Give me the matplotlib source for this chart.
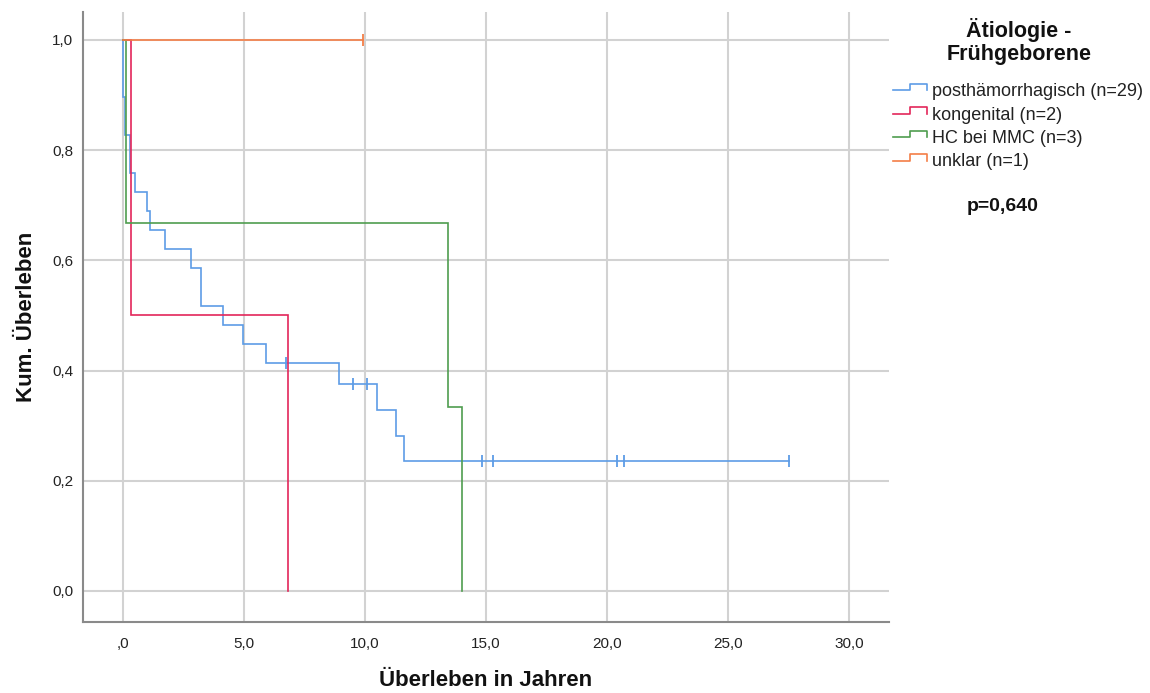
"""Kaplan-Meier survival by etiology (preterm infants), SPSS-style."""
import matplotlib
matplotlib.use("Agg")
import matplotlib.pyplot as plt
from matplotlib.lines import Line2D

W, H = 1150, 693

groups = ["posthämorrhagisch (n=29)", "kongenital (n=2)", "HC bei MMC (n=3)", "unklar (n=1)"]
colors = ["#5d9ce6", "#e3265a", "#4f9d4f", "#f47e47"]

# event times (years) and survival level after each step
post_t = [0.0, 0.09, 0.29, 0.51, 1.0, 1.12, 1.72, 2.82, 3.21, 4.12, 4.95, 5.9, 8.91, 10.5, 11.3, 11.6]
post_s = [0.897, 0.828, 0.759, 0.724, 0.690, 0.655, 0.621, 0.586, 0.517, 0.483,
          0.448, 0.414, 0.376, 0.329, 0.282, 0.235]
post_end = 27.52
post_cens_t = [6.74, 9.52, 10.07, 14.82, 15.3, 20.43, 20.7, 27.52]
post_cens_s = [0.414, 0.376, 0.376, 0.235, 0.235, 0.235, 0.235, 0.235]

kong_t = [0.32, 6.83]
kong_s = [0.5, 0.0]
kong_end = 6.83

hc_t = [0.12, 13.41, 14.01]
hc_s = [0.667, 0.333, 0.0]
hc_end = 14.01

unk_t = []
unk_s = []
unk_end = 9.9
unk_cens_t = [9.9]
unk_cens_s = [1.0]

xticks = [0, 5, 10, 15, 20, 25, 30]
xtick_labels = [",0", "5,0", "10,0", "15,0", "20,0", "25,0", "30,0"]
yticks = [0.0, 0.2, 0.4, 0.6, 0.8, 1.0]
ytick_labels = ["0,0", "0,2", "0,4", "0,6", "0,8", "1,0"]

p_text = "p=0,640"

plt.rcParams["font.family"] = ["Liberation Sans", "DejaVu Sans"]


def fx(px):
    return px / W


def fy(py):
    return 1 - py / H


def km_line(ax, t, s, end, color):
    x = [0.0] + list(t) + [end]
    y = [1.0] + list(s) + [s[-1] if s else 1.0]
    ax.step(x, y, where="post", color=color, lw=1.2, solid_joinstyle="miter", zorder=3)


fig = plt.figure(figsize=(W / 100, H / 100), dpi=100)
ax = fig.add_axes([fx(83), fy(622), (889 - 83) / W, (622 - 12) / H])

km_line(ax, post_t, post_s, post_end, colors[0])
ax.plot(post_cens_t, post_cens_s, ls="none", marker="|", ms=8, mew=1.3,
        color=colors[0], zorder=4)
km_line(ax, kong_t, kong_s, kong_end, colors[1])
km_line(ax, hc_t, hc_s, hc_end, colors[2])
km_line(ax, unk_t, unk_s, unk_end, colors[3])
ax.plot(unk_cens_t, unk_cens_s, ls="none", marker="|", ms=8, mew=1.3,
        color=colors[3], zorder=4)

ax.set_xlim(-1.65, 31.65)
ax.set_ylim(-0.0563, 1.0508)
ax.set_xticks(xticks)
ax.set_xticklabels(xtick_labels)
ax.set_yticks(yticks)
ax.set_yticklabels(ytick_labels)
ax.tick_params(length=0, labelsize=11, labelcolor="#222222")
ax.tick_params(axis="x", pad=11)
ax.tick_params(axis="y", pad=7)

ax.grid(True, color="#d2d2d2", lw=1.5, zorder=1)
ax.set_axisbelow(True)
for side in ("top", "right"):
    ax.spines[side].set_visible(False)
for side in ("left", "bottom"):
    ax.spines[side].set_color("#8a8a8a")
    ax.spines[side].set_linewidth(1.5)

ax.set_xlabel("Überleben in Jahren", fontsize=16, fontweight="bold", color="#111111",
              va="center")
ax.set_ylabel("Kum. Überleben", fontsize=16, fontweight="bold", color="#111111",
              va="center")
ax.xaxis.set_label_coords(0.5, (622 - 680) / 610)
ax.yaxis.set_label_coords((27 - 83) / 806, 0.5)

# legend block on the right, drawn by hand to get the step-shaped keys
fig.text(fx(1019), fy(37), "Ätiologie -", ha="center", va="baseline",
         fontsize=15.5, fontweight="bold", color="#111111")
fig.text(fx(1019), fy(60), "Frühgeborene", ha="center", va="baseline",
         fontsize=15.5, fontweight="bold", color="#111111")

base = [96, 119.5, 143, 166.5]
for label, col, b in zip(groups, colors, base):
    lo, hi = b - 6, b - 12.5
    xs = [fx(893), fx(910), fx(910), fx(927), fx(927)]
    ys = [fy(lo), fy(lo), fy(hi), fy(hi), fy(lo)]
    fig.add_artist(Line2D(xs, ys, color=col, lw=1.2, transform=fig.transFigure))
    fig.text(fx(932), fy(b), label, ha="left", va="baseline", fontsize=13,
             color="#222222")

fig.text(fx(1003), fy(211), p_text, ha="center", va="baseline",
         fontsize=14, fontweight="bold", color="#111111")

fig.savefig("out.png", dpi=100)
